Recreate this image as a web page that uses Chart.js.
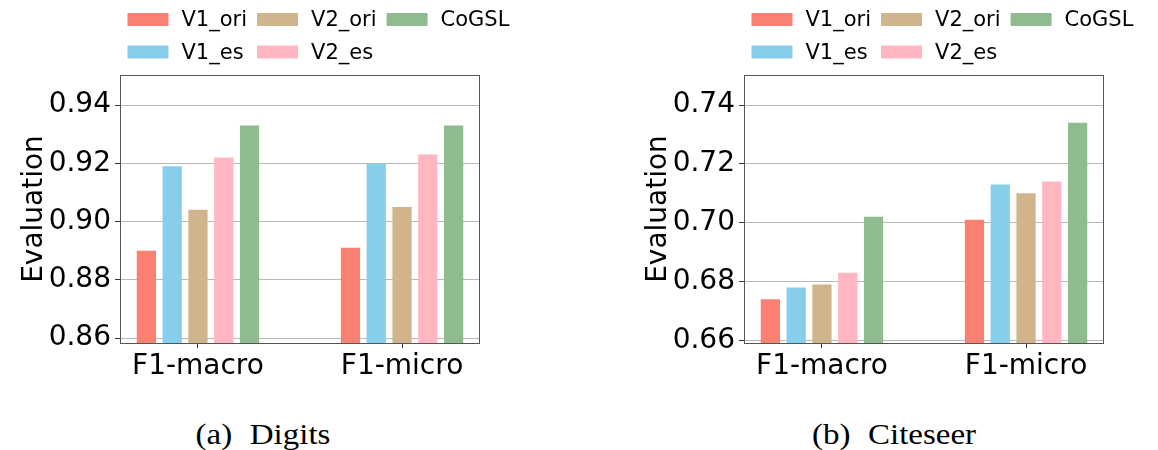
<!DOCTYPE html>
<html>
<head>
<meta charset="utf-8">
<script src="https://cdn.jsdelivr.net/npm/chart.js@4.4.0/dist/chart.umd.min.js"></script>
<style>
  html, body { margin: 0; padding: 0; background: #fff; }
  body { width: 1158px; height: 450px; position: relative; overflow: hidden; }
  canvas { position: absolute; top: 0; }
  #digits { left: 0; }
  #citeseer { left: 624px; }
  .cap {
    position: absolute; top: 419px; white-space: nowrap;
    font-family: "Liberation Serif", "Times New Roman", serif;
    font-size: 30px; line-height: 30px; color: #000;
    transform: translateX(-50%) scaleX(1.1);
  }
  .cap .lbl { margin-right: 16px; }
</style>
</head>
<body>
<canvas id="digits" width="534" height="400"></canvas>
<canvas id="citeseer" width="534" height="400"></canvas>
<div class="cap" style="left:263px"><span class="lbl">(a)</span>Digits</div>
<div class="cap" style="left:894px"><span class="lbl">(b)</span>Citeseer</div>

<script>
// ---- data ----
const categories = ['F1-macro', 'F1-micro'];
const seriesNames = ['V1_ori', 'V1_es', 'V2_ori', 'V2_es', 'CoGSL'];
const seriesColors = ['#FA8072', '#87CEEB', '#D2B48C', '#FFB6C1', '#8FBC8F'];

// Digits
const digitsV1ori = [0.890, 0.891];
const digitsV1es  = [0.919, 0.920];
const digitsV2ori = [0.904, 0.905];
const digitsV2es  = [0.922, 0.923];
const digitsCoGSL = [0.933, 0.933];
const digitsTicks = [0.86, 0.88, 0.90, 0.92, 0.94];
const digitsRange = [0.8583, 0.9503];

// Citeseer
const citeseerV1ori = [0.674, 0.701];
const citeseerV1es  = [0.678, 0.713];
const citeseerV2ori = [0.679, 0.710];
const citeseerV2es  = [0.683, 0.714];
const citeseerCoGSL = [0.702, 0.734];
const citeseerTicks = [0.66, 0.68, 0.70, 0.72, 0.74];
const citeseerRange = [0.6591, 0.7502];

// ---- styling ----
Chart.defaults.font.family = '"DejaVu Sans", sans-serif';
Chart.defaults.color = '#000';

const AXIS_FONT = { size: 28, family: '"DejaVu Sans", sans-serif' };
const LEGEND_FONT = '21px "DejaVu Sans", sans-serif';

// Frame around the plotting area (all four spines)
const framePlugin = {
  id: 'frame',
  afterDatasetsDraw(chart) {
    const { ctx, chartArea: a } = chart;
    ctx.save();
    ctx.strokeStyle = '#555';
    ctx.lineWidth = 1;
    ctx.strokeRect(Math.round(a.left) + 0.5, Math.round(a.top) + 0.5,
                   Math.round(a.right - a.left) - 1, Math.round(a.bottom - a.top));
    ctx.restore();
  }
};

// Legend laid out column-major in 3 columns x 2 rows above the plot
const gridLegendPlugin = {
  id: 'gridLegend',
  afterDraw(chart) {
    const { ctx, chartArea: a } = chart;
    const ds = chart.data.datasets;
    const rows = 2, sw = 41, sh = 13, gap = 13, colGap = 10;
    const rowY = [19.5, 52];
    ctx.save();
    ctx.font = LEGEND_FONT;
    ctx.textBaseline = 'middle';
    ctx.textAlign = 'left';
    let x = a.left + 7.5;
    for (let c = 0; c * rows < ds.length; c++) {
      let maxW = 0;
      for (let r = 0; r < rows; r++) {
        const i = c * rows + r;
        if (i >= ds.length) break;
        const y = rowY[r];
        ctx.fillStyle = ds[i].backgroundColor;
        ctx.fillRect(x, y - sh / 2, sw, sh);
        ctx.fillStyle = '#000';
        ctx.fillText(ds[i].label, x + sw + gap, y + 1.5);
        maxW = Math.max(maxW, ctx.measureText(ds[i].label).width);
      }
      x += sw + gap + maxW + colGap;
    }
    ctx.restore();
  }
};

function makeChart(id, seriesValues, yTicks, yRange) {
  const datasets = seriesNames.map((name, k) => ({
    label: name,
    data: seriesValues[k].map((v, i) => ({ x: i, y: v })),
    backgroundColor: seriesColors[k],
    borderWidth: 0,
    categoryPercentage: 0.632,
    barPercentage: 0.745,
    clip: 0
  }));
  return new Chart(document.getElementById(id), {
    type: 'bar',
    data: { datasets },
    options: {
      responsive: false,
      animation: false,
      devicePixelRatio: 1,
      layout: { padding: { top: 75, right: 54, bottom: 0, left: 0 } },
      plugins: { legend: { display: false }, tooltip: { enabled: false } },
      scales: {
        x: {
          type: 'linear',
          offset: false,
          bounds: 'data',
          min: -0.382, max: 1.382,
          afterBuildTicks: s => { s.ticks = categories.map((_, i) => ({ value: i })); },
          afterFit: s => { s.height = 57; },
          ticks: {
            font: AXIS_FONT, color: '#000', padding: 2,
            maxRotation: 0, autoSkip: false,
            callback: v => categories[v]
          },
          grid: { offset: false, drawOnChartArea: false, drawTicks: true, tickLength: 5, tickColor: '#333' },
          border: { display: false }
        },
        y: {
          min: yRange[0], max: yRange[1],
          afterBuildTicks: s => { s.ticks = yTicks.map(v => ({ value: v })); },
          afterFit: s => { s.width = 120; },
          ticks: { font: AXIS_FONT, color: '#000', padding: 4, callback: v => v.toFixed(2) },
          grid: { color: '#b8b8b8', lineWidth: 1, drawTicks: true, tickLength: 5, tickColor: '#333' },
          border: { display: false },
          title: {
            display: true, text: 'Evaluation', font: AXIS_FONT, color: '#000',
            padding: { top: 18, bottom: 0 }
          }
        }
      }
    },
    plugins: [framePlugin, gridLegendPlugin]
  });
}

makeChart('digits',
  [digitsV1ori, digitsV1es, digitsV2ori, digitsV2es, digitsCoGSL],
  digitsTicks, digitsRange);
makeChart('citeseer',
  [citeseerV1ori, citeseerV1es, citeseerV2ori, citeseerV2es, citeseerCoGSL],
  citeseerTicks, citeseerRange);
</script>
</body>
</html>
